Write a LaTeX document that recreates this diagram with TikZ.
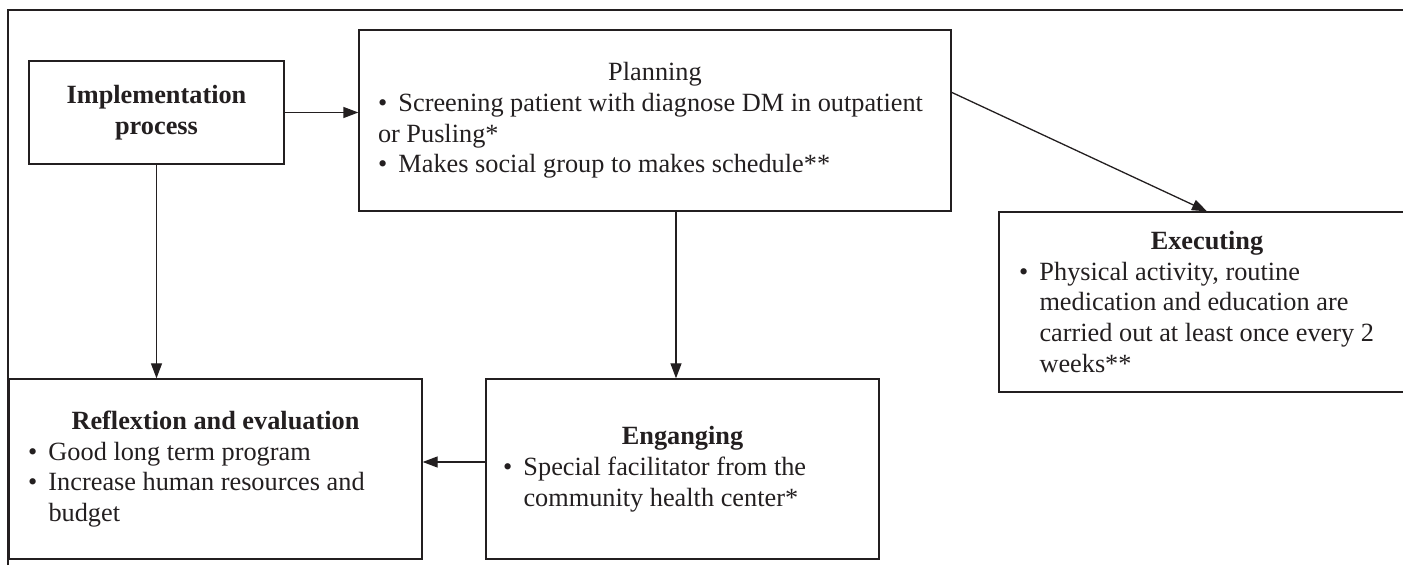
\documentclass[tikz,border=0pt]{standalone}
\usepackage{fontspec}
\setmainfont{Liberation Serif}
\usetikzlibrary{arrows.meta,calc}
\definecolor{ink}{RGB}{35,31,32}
\newcommand{\bitem}{\makebox[0.78em][l]{\textbullet}}
\newcommand{\bcont}{\hspace*{0.78em}}
\begin{document}
\begin{tikzpicture}[x=1pt,y=1pt,
  box/.style={draw=ink, text=ink, line width=1.3pt, inner ysep=0pt, inner xsep=19pt,
    align=flush left, font=\fontsize{26.3}{30.8}\selectfont},
  arr/.style={draw=ink, line width=1.3pt, -{Triangle[length=15pt,width=11pt]}}]
\useasboundingbox (0,0) rectangle (1403,565);
\draw[ink, line width=1.6pt] (8,0) -- (8,555) -- (1410,555);
\node[box, align=flush center, inner xsep=4pt, minimum width=255pt, minimum height=103pt] (impl) at (156.5,452.5)
  {\bfseries Implementation\\\bfseries process};
\node[box, text width=554pt, minimum height=181pt] (plan) at (655,444.5)
  {\makebox[554pt][c]{Planning}\\
   \bitem Screening patient with diagnose DM in outpatient\\
   or Pusling*\\
   \bitem Makes social group to makes schedule**};
\node[box, text width=376pt, inner xsep=20pt, minimum height=180pt] (exec) at (1207,263)
  {\makebox[376pt][c]{\bfseries Executing}\\
   \bitem Physical activity, routine\\
   \bcont medication and education are\\
   \bcont carried out at least once every 2\\
   \bcont weeks**};
\node[box, text width=375pt, minimum height=180pt] (refl) at (215.5,96)
  {\makebox[375pt][c]{\bfseries Reflextion and evaluation}\\
   \bitem Good long term program\\
   \bitem Increase human resources and\\
   \bcont budget};
\node[box, text width=359pt, inner xsep=17pt, minimum height=180pt] (eng) at (682.5,96)
  {\makebox[359pt][c]{\bfseries Enganging}\\
   \bitem Special facilitator from the\\
   \bcont community health center*};
\draw[arr] (impl.east) -- (impl.east -| plan.west);
\draw[arr] (impl.south) -- (impl.south |- refl.north);
\draw[arr] ([xshift=21pt]plan.south) -- ([xshift=21pt]plan.south |- eng.north);
\draw[arr] ([yshift=-63pt]plan.north east) -- (exec.north);
\draw[arr] ([yshift=7pt]eng.west) -- ([yshift=7pt]eng.west -| refl.east);
\end{tikzpicture}
\end{document}
